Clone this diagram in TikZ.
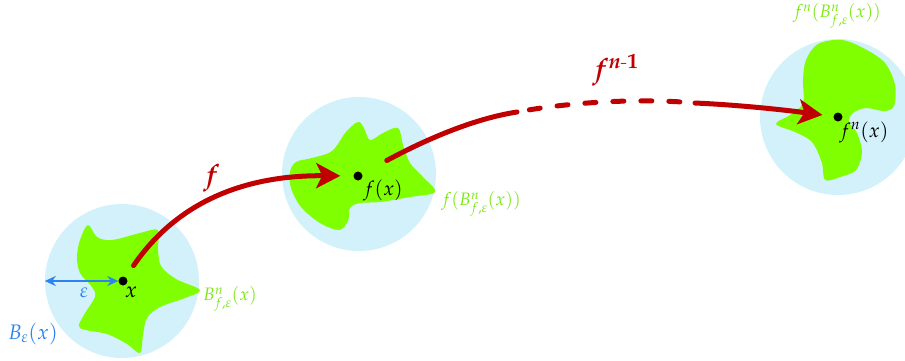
\documentclass[tikz,border=0pt]{standalone}
\usepackage{mathpazo}
\usepackage{amsmath}
\usetikzlibrary{arrows.meta}
\definecolor{ballblue}{RGB}{210,241,250}
\definecolor{blobgreen}{RGB}{128,255,0}
\definecolor{labgreen}{RGB}{125,232,20}
\definecolor{arrred}{RGB}{192,0,0}
\definecolor{epsblue}{RGB}{45,132,240}
\begin{document}
\begin{tikzpicture}[x=1pt,y=-1pt,
  ball/.style={circle,fill=ballblue,inner sep=0pt,minimum size=#1},
  blob/.style={fill=blobgreen,draw=none},
  pt/.style={circle,fill=black,inner sep=0pt,minimum size=9pt},
  redarr/.style={draw=arrred,line width=5pt,line cap=round},
  redtip/.style={-{Stealth[length=24pt,width=25pt,inset=6pt]}},
  lbl/.style={inner sep=0pt,font=\fontsize{18}{21}\selectfont},
  biglbl/.style={inner sep=0pt,text=arrred,font=\fontsize{28}{32}\selectfont\boldmath},
]
\useasboundingbox (0,0) rectangle (905,360);
% balls
\node[ball=154pt] (ball1) at (122,281) {};
\node[ball=154pt] (ball2) at (359,174) {};
\node[ball=156pt] (ball3) at (838,117) {};
% blobs
\fill[blob] plot[smooth cycle,tension=0.55] coordinates {
 (88,225) (97,237) (112,240) (140,233) (158,230) (158,248) (161,266) (176,279)
 (200,290) (185,298) (160,307) (147,318) (143,335) (140,353) (127,344) (107,334)
 (80,328) (84,315) (95,297) (92,287) (80,273) (77,257) (80,240)};
\fill[blob] plot[smooth cycle,tension=0.55] coordinates {
 (290,172) (296,162) (312,158) (332,151) (346,132) (358,122) (364,128) (370,140)
 (383,133) (398,128) (403,145) (410,163) (423,177) (435,192) (410,197) (380,202)
 (360,203) (350,208) (348,221) (339,230) (320,223) (301,207) (291,188)};
\fill[blob] plot[smooth cycle,tension=0.55] coordinates {
 (776,124) (790,115) (803,103) (803,80) (806,60) (818,44) (842,40) (865,49)
 (885,63) (895,85) (894,106) (884,111) (866,108) (853,113) (849,122) (857,133)
 (862,152) (856,170) (840,177) (825,180) (822,163) (812,142) (795,132)};
% points
\node[pt] (x1) at (123,281) {};
\node[pt] (x2) at (358,176) {};
\node[pt] (x3) at (838,117) {};
\coordinate (w1) at (517,112);
\coordinate (w2) at (695,103);
% epsilon arrow
\draw[epsblue,line width=2.4pt,{Stealth[length=11pt,width=10pt]}-{Stealth[length=11pt,width=10pt]}]
  (ball1.west) -- (x1.west);
% red arrows
\draw[redarr,redtip,shorten <=14pt,shorten >=13pt]
  (x1) .. controls (175,205) and (240,175) .. (x2);
\draw[redarr,shorten <=28pt] (x2) .. controls (410,148) and (465,120) .. (w1);
\draw[redarr,dash pattern=on 11pt off 17pt,dash phase=15.5pt]
  (w1) .. controls (570,102) and (640,98) .. (w2);
\draw[redarr,redtip,shorten >=11pt] (w2) .. controls (740,105) and (785,110) .. (x3);
% labels
\node[lbl,font=\fontsize{22}{24}\selectfont] (lx) at (131,292) {$x$};
\node[lbl,text=epsblue,font=\fontsize{20}{24}\selectfont] (leps) at (84,293) {$\varepsilon$};
\node[lbl,text=epsblue,font=\fontsize{21}{24}\selectfont] (lB) at (33,334) {$B_{\varepsilon}(x)$};
\node[lbl,text=labgreen] (lB1) at (230,299) {$B^{n}_{f,\varepsilon}(x)$};
\node[lbl,font=\fontsize{20}{24}\selectfont] (lfx) at (383,190) {$f(x)$};
\node[lbl,text=labgreen] (lB2) at (481,204) {$f(B^{n}_{f,\varepsilon}(x))$};
\node[lbl,font=\fontsize{20}{24}\selectfont] (lfnx) at (864,132) {$f^{n}(x)$};
\node[lbl,text=labgreen] (lB3) at (837,16) {$f^{n}(B^{n}_{f,\varepsilon}(x))$};
\node[biglbl] (lf) at (211,178) {$f$};
\node[biglbl] (lfn) at (615,70) {$f^{n\text{-}1}$};
\end{tikzpicture}
\end{document}
